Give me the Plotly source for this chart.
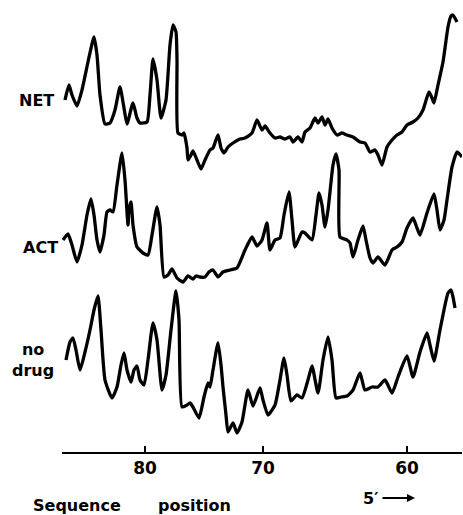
import plotly.graph_objects as go

# Scan distance along the gel (arbitrary units) and densitometer readings (arbitrary units)
net_x = [65,69,72,77,82,88,94,97,100,105,110,115,120,124,127,133,137,140,147,150,
         153,157,161,166,170,173,176,177,178,182,184,187,188,191,193,197,201,205,210,213,
         218,221,224,228,233,240,245,252,257,262,265,270,275,280,285,290,293,298,302,305,
         310,315,318,322,325,328,332,337,342,347,353,360,365,370,375,378,382,387,392,397,
         402,407,413,418,423,429,432,434,438,443,448,451,453,457]
net_density = [70,85,75,64,80,108,133,115,75,46,47,60,83,62,46,67,52,47,48,75,
               111,90,52,70,125,145,138,110,37,35,37,22,10,15,19,10,1,10,20,22,
               35,22,17,23,27,31,32,37,50,40,44,37,32,33,31,33,28,33,28,38,
               42,52,47,53,45,51,42,35,37,35,33,28,27,18,20,15,5,23,30,35,
               38,45,48,52,60,78,72,67,85,108,143,154,155,148]

act_x = [63,68,72,77,82,87,91,94,97,100,104,107,110,113,117,122,125,128,129,131,
         133,137,143,148,152,157,160,164,168,172,177,183,188,193,196,200,205,209,213,218,
         223,230,237,245,252,257,262,267,270,275,280,284,289,292,295,302,305,312,316,319,
         322,325,328,330,333,336,339,340,347,350,353,358,363,366,370,373,378,385,392,397,
         402,407,413,417,420,427,434,437,440,444,447,452,457,462]
act_density = [42,48,37,20,37,67,83,67,42,30,47,70,72,70,97,129,102,57,72,80,
               57,35,29,27,47,75,57,5,7,13,4,0,6,3,6,5,5,10,12,5,
               10,12,14,32,45,36,42,59,32,42,44,67,90,62,35,50,49,42,67,89,
               77,55,72,90,117,128,112,45,42,39,25,42,56,42,24,19,25,17,32,35,
               40,54,64,54,47,69,88,72,52,62,82,115,130,125]

nodrug_x = [66,70,73,76,80,85,90,94,98,101,105,112,117,121,124,127,131,134,137,140,
            144,148,153,157,162,166,171,176,179,182,187,190,193,199,204,208,210,213,218,221,
            223,226,228,233,237,242,248,253,260,263,268,275,280,284,287,291,297,302,308,312,
            318,323,328,332,336,341,347,353,360,365,372,378,385,392,398,407,413,420,427,430,
            434,440,448,451,453,455]
nodrug_density = [73,91,95,83,63,81,103,123,137,103,53,35,46,68,80,63,51,63,67,53,
                  48,73,110,93,43,58,103,142,113,26,28,30,26,15,36,50,46,63,90,68,
                  46,18,1,10,0,11,43,27,45,33,18,28,53,75,58,32,38,35,53,67,
                  40,73,96,73,35,36,37,43,60,43,46,46,53,40,56,77,56,81,100,88,
                  72,103,140,143,136,125]

trace_names = ["NET", "ACT", "no<br>drug"]
trace_offsets = [282, 170, 19]

tick_positions = [145, 263, 407]
tick_labels = ["80", "70", "60"]

FONT = "DejaVu Sans"
X0, X1 = 62, 462
Y0, Y1 = 0, 452


def px(x):
    return (x - X0) / (X1 - X0)


def py(y):
    return (y - Y0) / (Y1 - Y0)


fig = go.Figure()
series = [(net_x, net_density), (act_x, act_density), (nodrug_x, nodrug_density)]
for (xs, ds), off, name in zip(series, trace_offsets, trace_names):
    fig.add_trace(go.Scatter(
        x=xs, y=[d + off for d in ds], mode="lines",
        line=dict(color="black", width=3.3, shape="spline", smoothing=0.5),
        hoverinfo="skip", showlegend=False, name=name.replace("<br>", " ")))

label_pos = [(36, 352), (40, 204), (33, 92)]
for name, (lx, ly) in zip(trace_names, label_pos):
    fig.add_annotation(x=px(lx), y=py(ly), xref="paper", yref="paper", text=name,
                       showarrow=False, align="center", xanchor="center", yanchor="middle",
                       font=dict(family=FONT, size=16, color="black", weight="bold"))

bold16 = dict(family=FONT, size=16, color="black", weight="bold")
for txt, tx, ty in [("Sequence", 77, -53), ("position", 194, -53), ("5′", 370, -46)]:
    fig.add_annotation(x=px(tx), y=py(ty), xref="paper", yref="paper", text=txt,
                       showarrow=False, xanchor="center", yanchor="middle", font=bold16)
fig.add_annotation(x=px(415), y=py(-46), ax=-34, ay=0,
                   xref="paper", yref="paper", axref="pixel", ayref="pixel",
                   text="", showarrow=True, arrowhead=2, arrowsize=0.8, arrowwidth=2,
                   arrowcolor="black")

fig.update_xaxes(range=[X0, X1], showline=True, linecolor="black", linewidth=2,
                 ticks="inside", ticklen=6, tickwidth=2, tickcolor="black",
                 tickvals=tick_positions, ticktext=tick_labels,
                 tickfont=dict(family=FONT, size=17, color="black", weight="bold"),
                 showgrid=False, zeroline=False, fixedrange=True)
fig.update_yaxes(range=[Y0, Y1], visible=False, showgrid=False, zeroline=False, fixedrange=True)
fig.update_layout(width=463, height=515, margin=dict(l=62, r=1, t=0, b=63),
                  plot_bgcolor="white", paper_bgcolor="white")

fig.write_html("out.html", config={"displayModeBar": False},
               post_script="document.body.style.margin='0';")
